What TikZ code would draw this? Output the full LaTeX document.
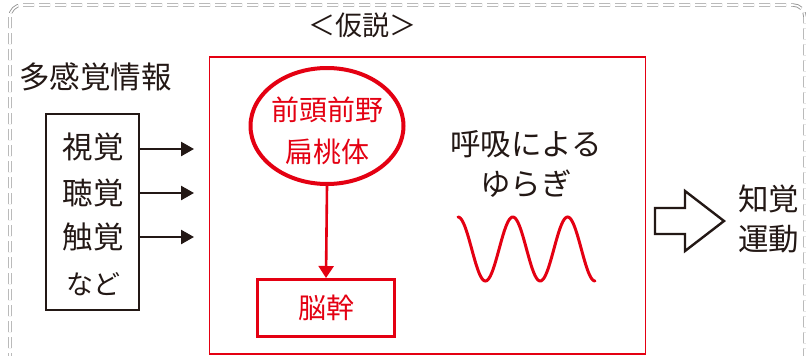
\documentclass[tikz,border=0pt]{standalone}
\usepackage{fontspec}
\setmainfont{Noto Sans CJK JP}
\usetikzlibrary{shapes.geometric,arrows.meta}
\definecolor{hred}{RGB}{228,0,18}
\definecolor{fgray}{RGB}{150,150,150}
\definecolor{ink}{RGB}{35,24,21}
\tikzset{
  txt/.style={font=\fontsize{30.5}{40}\selectfont, text=ink, inner sep=0pt},
  rtxt/.style={font=\fontsize{28}{42}\selectfont, text=hred, inner sep=0pt, align=center},
  inarrow/.style={draw=ink, line width=2.5pt, -{Triangle[length=13pt,width=14pt]}},
  redarrow/.style={draw=hred, line width=2.6pt, -{Triangle[length=12pt,width=15pt]}},
}
\begin{document}
\begin{tikzpicture}[x=1pt,y=-1pt]
\useasboundingbox (0,0) rectangle (806,356);
\clip (0,0) rectangle (806,356);
\fill[white] (0,0) rectangle (806,356);
% outer double dashed frame
\draw[fgray, line width=0.9pt, double=white, double distance=1.6pt, dash pattern=on 11pt off 5pt, rounded corners=12pt] (10,5) rectangle (805,380);
% title
\node[txt, font=\fontsize{27}{30}\selectfont] (title) at (362,25) {＜仮説＞};
\node[txt, anchor=west] (multi) at (19,77) {多感覚情報};
% sensory box
\node[draw=ink, line width=2.2pt, minimum width=93pt, minimum height=196pt, inner sep=0pt] (sbox) at (92.5,212) {};
\node[txt] (s1) at (93,147) {視覚};
\node[txt] (s2) at (93,193) {聴覚};
\node[txt] (s3) at (93,237) {触覚};
\node[txt, font=\fontsize{27}{30}\selectfont] (s4) at (93,284) {など};
\coordinate (e1) at (194,149);
\coordinate (e2) at (194,193);
\coordinate (e3) at (194,237);
\draw[inarrow] (sbox.east |- e1) -- (e1);
\draw[inarrow] (sbox.east |- e2) -- (e2);
\draw[inarrow] (sbox.east |- e3) -- (e3);
% red hypothesis box
\node[draw=hred, line width=1.6pt, minimum width=436pt, minimum height=297pt, inner sep=0pt] (hbox) at (427.5,205.5) {};
% ellipse
\node[ellipse, draw=hred, line width=4pt, minimum width=153pt, minimum height=116pt, inner sep=0pt] (pfc) at (327,126) {};
\node[rtxt] (pfct) at (327,131) {前頭前野\\扁桃体};
% brainstem
\node[draw=hred, line width=3pt, minimum width=137pt, minimum height=57pt, inner sep=0pt, rtxt] (bs) at (326,308) {脳幹};
\draw[redarrow] (pfc.south) -- (bs.north);
% respiration
\node[txt, align=center] (resp) at (526,164) {呼吸による\\ゆらぎ};
\draw[hred, line width=3pt, line cap=round] plot[domain=0:900, samples=120, smooth] ({458+\x/900*137}, {249-32*cos(\x)});
% open arrow
\draw[ink, line width=2.4pt, line join=miter] (655,208) -- (685,208) -- (685,191) -- (724,221) -- (685,251) -- (685,234) -- (655,234) -- cycle;
\node[txt, anchor=west, align=left] (out) at (738,219) {知覚\\運動};
\end{tikzpicture}
\end{document}
